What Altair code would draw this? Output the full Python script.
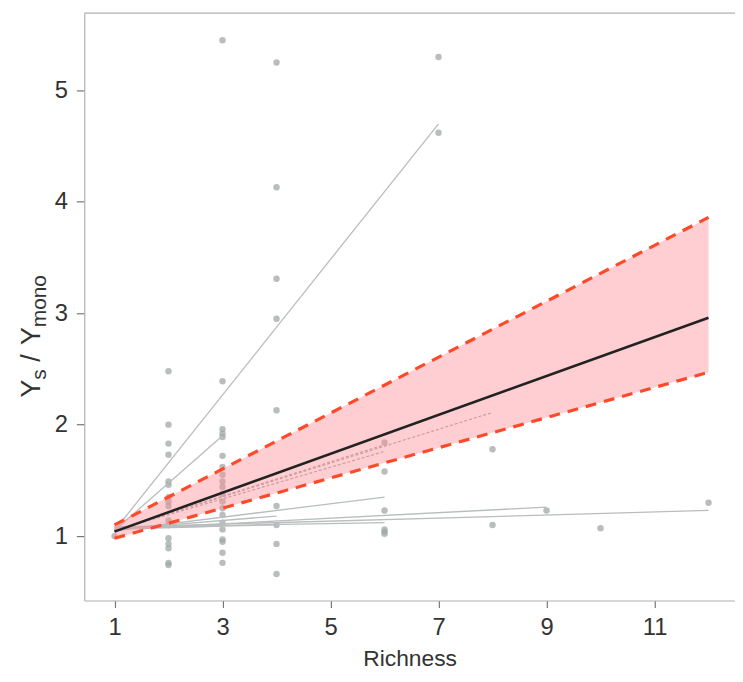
import altair as alt
import pandas as pd

# ---- observed points (richness, Ys/Ymono) ----
pts_x = ([1]
         + [2] * 16
         + [3] * 20
         + [4] * 9
         + [6] * 6
         + [7, 7, 8, 8, 9, 10, 12])
pts_y = [1.00,
         2.48, 2.00, 1.83, 1.73, 1.49, 1.46, 1.35, 1.31, 1.27, 1.14, 1.10, 0.98, 0.93, 0.89, 0.76, 0.74,
         5.45, 2.39, 1.96, 1.92, 1.89, 1.72, 1.62, 1.55, 1.49, 1.44, 1.38, 1.31, 1.25, 1.19, 1.12, 1.06,
         0.97, 0.95, 0.85, 0.76,
         5.25, 4.13, 3.31, 2.95, 2.13, 1.27, 1.10, 0.93, 0.66,
         1.84, 1.58, 1.23, 1.06, 1.04, 1.02,
         5.30, 4.62, 1.78, 1.10, 1.23, 1.07, 1.30]

# ---- per-study fitted lines ----
line_id = ["a", "b", "c", "d", "e", "f", "g", "h", "i", "j", "k", "l"]
line_x0 = [1, 1, 1, 1, 1, 1, 1, 1, 1, 1, 1, 1]
line_y0 = [1.05, 1.05, 1.05, 1.05, 1.05, 1.05, 1.06, 1.08, 1.06, 1.08, 1.07, 1.06]
line_x1 = [7, 3, 8, 6, 6, 6, 9, 12, 4, 6, 4, 3]
line_y1 = [4.70, 1.90, 2.11, 1.82, 1.76, 1.35, 1.26, 1.23, 1.18, 1.12, 1.10, 1.09]
line_dashed = [False, False, True, True, True, False, False, False, False, False, False, False]

# ---- overall fit and confidence band ----
fit_x = [1, 12]
fit_y = [1.04, 2.96]
ci_lo = [0.98, 2.47]
ci_hi = [1.10, 3.86]

x_ticks = [1, 3, 5, 7, 9, 11]
y_ticks = [1, 2, 3, 4, 5]

pts = pd.DataFrame({"x": pts_x, "y": pts_y})
rows = []
for i, lid in enumerate(line_id):
    rows.append({"id": lid, "x": line_x0[i], "y": line_y0[i], "dashed": line_dashed[i]})
    rows.append({"id": lid, "x": line_x1[i], "y": line_y1[i], "dashed": line_dashed[i]})
lines = pd.DataFrame(rows)
band = pd.DataFrame({"x": fit_x, "lo": ci_lo, "hi": ci_hi, "fit": fit_y})
ci_long = pd.DataFrame({
    "x": fit_x + fit_x,
    "y": ci_lo + ci_hi,
    "bound": ["lo"] * len(fit_x) + ["hi"] * len(fit_x),
})

W, H = 657, 593
FONT = "Liberation Sans"
xs = alt.Scale(domain=[0.44, 12.49], nice=False, zero=False)
ys = alt.Scale(domain=[0.422, 5.693], nice=False, zero=False)

xax = alt.Axis(values=x_ticks, title="Richness", grid=False, tickSize=7, tickWidth=1.2,
               labelFontSize=24, titleFontSize=23, labelPadding=8, titlePadding=9,
               domainColor="#b0b0b0", domainWidth=1.2, tickColor="#777777",
               labelColor="#333333", titleColor="#333333", labelFont=FONT, titleFont=FONT,
               titleFontWeight="normal", format="d")
yax = alt.Axis(values=y_ticks, title=None, grid=False, tickSize=8, tickWidth=1.2,
               labelFontSize=24, labelPadding=9,
               domainColor="#b0b0b0", domainWidth=1.2, tickColor="#777777",
               labelColor="#333333", labelFont=FONT, format="d")

def X(f="x"):
    return alt.X(f"{f}:Q", scale=xs, axis=xax)

def Y(f="y"):
    return alt.Y(f"{f}:Q", scale=ys, axis=yax)

points = alt.Chart(pts).mark_circle(size=42, color="#a2a7a7", opacity=0.75).encode(x=X(), y=Y())

solid_lines = alt.Chart(lines).transform_filter("!datum.dashed").mark_line(
    color="#b9bdbd", strokeWidth=1.3).encode(x=X(), y=Y(), detail="id:N")
dashed_lines = alt.Chart(lines).transform_filter("datum.dashed").mark_line(
    color="#a9a9a9", strokeWidth=1.2, strokeDash=[3, 2]).encode(x=X(), y=Y(), detail="id:N")

area = alt.Chart(band).mark_area(color="#ff8a94", opacity=0.42).encode(
    x=X(), y=Y("lo"), y2="hi:Q")

fit = alt.Chart(band).mark_line(color="#222222", strokeWidth=2.6).encode(x=X(), y=Y("fit"))

ci = alt.Chart(ci_long).mark_line(color="#ff4a2a", strokeWidth=3.2, strokeDash=[11, 8]).encode(
    x=X(), y=Y(), detail="bound:N")

top_border = alt.Chart(alt.Data(values=[{}])).mark_rule(color="#b0b0b0", strokeWidth=1.2).encode(
    x=alt.value(0), x2=alt.value(W), y=alt.value(0))

def piece(txt, px, py, fs):
    return alt.Chart(alt.Data(values=[{}])).mark_text(
        text=txt, angle=270, align="left", baseline="alphabetic", fontSize=fs,
        font=FONT, color="#333333").encode(x=alt.value(px), y=alt.value(py))

title_pieces = [
    piece("Y", -45, 388, 27),
    piece("s", -39, 370, 21),
    piece("/", -45, 352, 27),
    piece("Y", -45, 335, 27),
    piece("mono", -39, 317, 21),
]

chart = alt.layer(points, solid_lines, dashed_lines, area, fit, ci, top_border, *title_pieces).properties(
    width=W, height=H,
    autosize=alt.AutoSizeParams(type="none"),
    padding={"left": 77, "top": 2, "right": 0, "bottom": 71},
).configure_view(stroke=None)

chart.save("out.html", embed_options={"renderer": "svg", "actions": False})
